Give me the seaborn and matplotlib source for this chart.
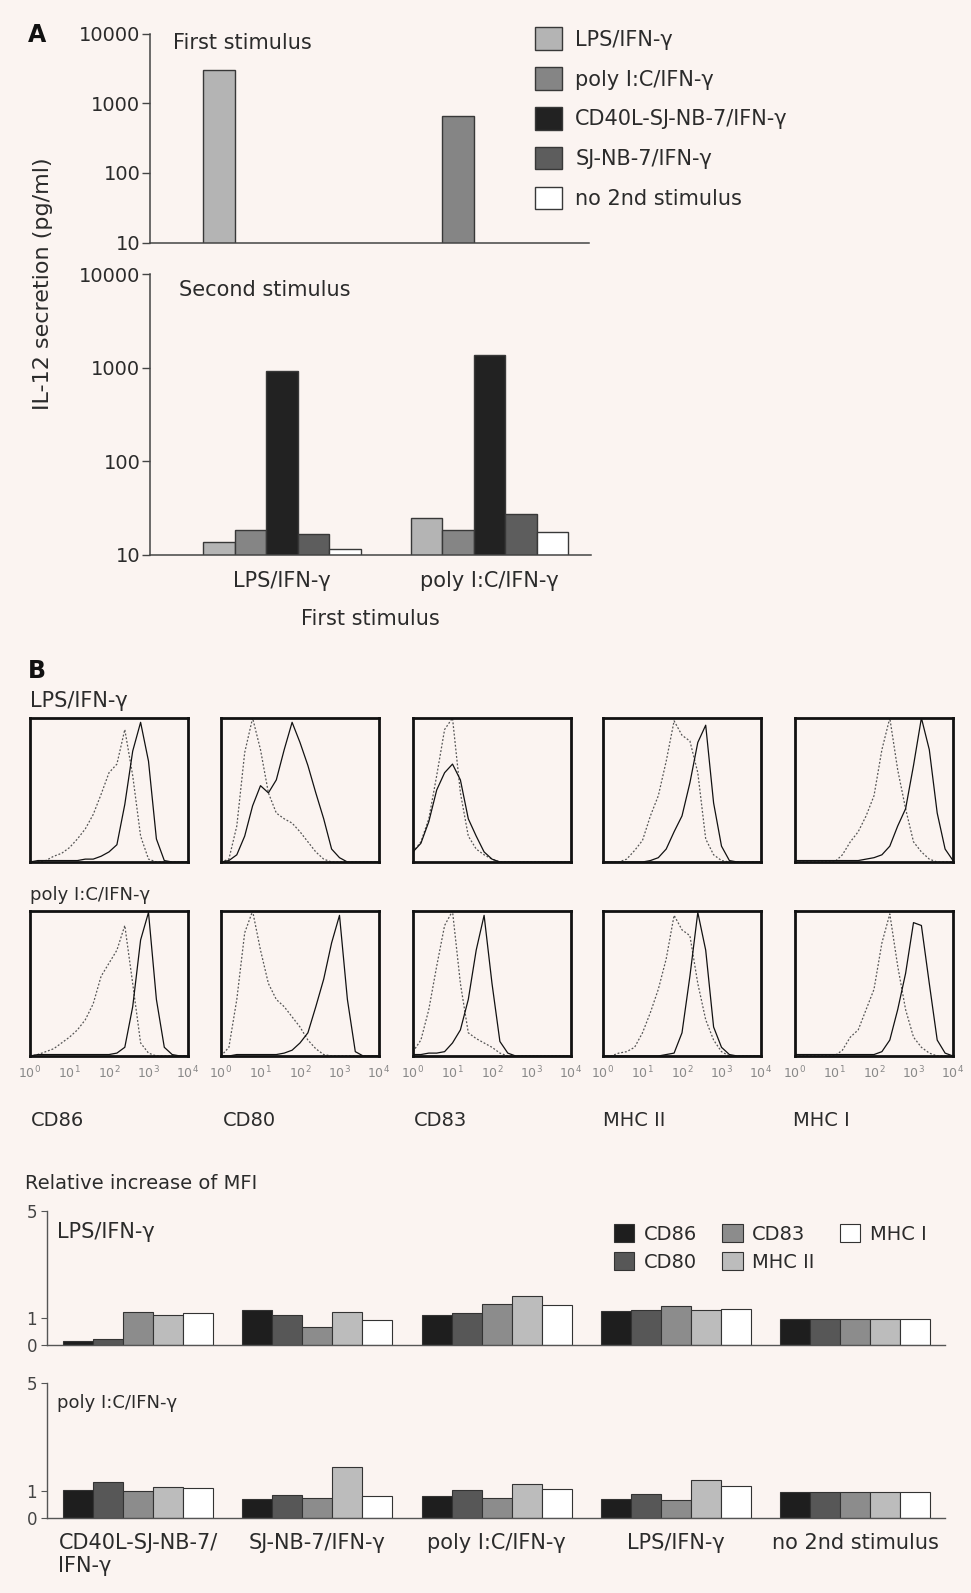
import pandas as pd
import matplotlib.pyplot as plt
import seaborn as sns
from matplotlib.patches import Patch
from matplotlib.ticker import NullLocator

# ---- Panel A: IL-12 secretion (pg/ml) ----
first_stimuli = ["LPS/IFN-γ", "poly I:C/IFN-γ"]
second_stimuli = ["LPS/IFN-γ", "poly I:C/IFN-γ", "CD40L-SJ-NB-7/IFN-γ",
                  "SJ-NB-7/IFN-γ", "no 2nd stimulus"]
second_colors = ["#b4b4b4", "#858585", "#222222", "#5d5d5d", "#ffffff"]
il12_first = [3000, 650]  # first stimulus only
il12_after_lps = [13.8, 18.2, 930, 16.5, 11.6]
il12_after_poly = [24.6, 18.2, 1350, 27.2, 17.3]

# ---- Panel B: histograms (log10 fluorescence, counts scaled to peak) ----
markers = ["CD86", "CD80", "CD83", "MHC II", "MHC I"]
log_fl = [0.0, 0.2, 0.4, 0.6, 0.8, 1.0, 1.2, 1.4, 1.6, 1.8, 2.0,
          2.2, 2.4, 2.6, 2.8, 3.0, 3.2, 3.4, 3.6, 3.8, 4.0]
decade_labels = ["$10^{0}$", "$10^{1}$", "$10^{2}$", "$10^{3}$", "$10^{4}$"]

lps_ctrl = {
    "CD86": [0, 0, 0.01, 0.04, 0.06, 0.1, 0.16, 0.23, 0.33, 0.47, 0.62, 0.68, 0.92, 0.6, 0.18, 0.02, 0, 0, 0, 0, 0],
    "CD80": [0, 0.02, 0.25, 0.76, 1.0, 0.78, 0.48, 0.34, 0.3, 0.27, 0.21, 0.14, 0.07, 0.02, 0, 0, 0, 0, 0, 0, 0],
    "CD83": [0.07, 0.14, 0.3, 0.6, 0.92, 1.0, 0.48, 0.18, 0.09, 0.05, 0.02, 0, 0, 0, 0, 0, 0, 0, 0, 0, 0],
    "MHC II": [0, 0, 0, 0.02, 0.08, 0.15, 0.32, 0.46, 0.7, 0.98, 0.88, 0.84, 0.62, 0.16, 0.05, 0.01, 0, 0, 0, 0, 0],
    "MHC I": [0, 0, 0, 0, 0, 0, 0.05, 0.14, 0.21, 0.32, 0.46, 0.78, 1.0, 0.64, 0.37, 0.14, 0.07, 0.02, 0, 0, 0],
}
lps_stim = {
    "CD86": [0, 0.01, 0.01, 0.01, 0.01, 0.01, 0.01, 0.02, 0.02, 0.04, 0.07, 0.12, 0.4, 0.77, 0.97, 0.7, 0.16, 0.01, 0, 0, 0],
    "CD80": [0, 0.01, 0.05, 0.18, 0.39, 0.53, 0.48, 0.57, 0.78, 0.97, 0.83, 0.67, 0.48, 0.3, 0.09, 0.03, 0, 0, 0, 0, 0],
    "CD83": [0.07, 0.13, 0.28, 0.5, 0.62, 0.68, 0.57, 0.3, 0.18, 0.07, 0.02, 0, 0, 0, 0, 0, 0, 0, 0, 0, 0],
    "MHC II": [0, 0, 0, 0, 0, 0, 0.01, 0.03, 0.09, 0.21, 0.32, 0.55, 0.83, 0.95, 0.41, 0.11, 0.01, 0, 0, 0, 0],
    "MHC I": [0.01, 0.01, 0.01, 0.01, 0.01, 0.01, 0.01, 0.01, 0.01, 0.02, 0.03, 0.05, 0.11, 0.25, 0.37, 0.67, 1.0, 0.78, 0.34, 0.09, 0.01],
}
poly_ctrl = {
    "CD86": [0, 0.01, 0.03, 0.05, 0.09, 0.13, 0.18, 0.25, 0.36, 0.55, 0.64, 0.73, 0.9, 0.5, 0.09, 0.02, 0, 0, 0, 0, 0],
    "CD80": [0, 0.06, 0.39, 0.85, 1.0, 0.73, 0.5, 0.39, 0.34, 0.27, 0.2, 0.11, 0.05, 0.01, 0, 0, 0, 0, 0, 0, 0],
    "CD83": [0.03, 0.11, 0.32, 0.62, 0.9, 1.0, 0.5, 0.16, 0.12, 0.09, 0.06, 0.02, 0, 0, 0, 0, 0, 0, 0, 0, 0],
    "MHC II": [0, 0, 0.02, 0.03, 0.06, 0.16, 0.3, 0.46, 0.67, 0.97, 0.87, 0.83, 0.5, 0.25, 0.11, 0.03, 0, 0, 0, 0, 0],
    "MHC I": [0, 0, 0, 0, 0, 0, 0.04, 0.13, 0.18, 0.32, 0.46, 0.78, 0.98, 0.62, 0.32, 0.13, 0.06, 0.02, 0, 0, 0],
}
poly_stim = {
    "CD86": [0, 0.01, 0.01, 0.01, 0.01, 0.01, 0.01, 0.01, 0.01, 0.01, 0.01, 0.02, 0.06, 0.34, 0.8, 0.99, 0.39, 0.06, 0.01, 0, 0],
    "CD80": [0, 0, 0.01, 0.01, 0.01, 0.01, 0.01, 0.01, 0.02, 0.04, 0.09, 0.16, 0.34, 0.53, 0.78, 0.97, 0.39, 0.03, 0, 0, 0],
    "CD83": [0.01, 0.01, 0.02, 0.02, 0.03, 0.09, 0.18, 0.39, 0.73, 0.97, 0.5, 0.1, 0.02, 0, 0, 0, 0, 0, 0, 0, 0],
    "MHC II": [0, 0, 0, 0, 0, 0, 0, 0, 0.01, 0.02, 0.16, 0.55, 0.99, 0.73, 0.2, 0.06, 0.01, 0, 0, 0, 0],
    "MHC I": [0.01, 0.01, 0.01, 0.01, 0.01, 0.01, 0.01, 0.01, 0.01, 0.01, 0.01, 0.03, 0.11, 0.32, 0.57, 0.92, 0.9, 0.5, 0.11, 0.02, 0],
}

# ---- Panel B: relative increase of MFI ----
mfi_groups = ["CD40L-SJ-NB-7/\nIFN-γ", "SJ-NB-7/IFN-γ", "poly I:C/IFN-γ",
              "LPS/IFN-γ", "no 2nd stimulus"]
marker_colors = ["#1e1e1e", "#575757", "#8c8c8c", "#bcbcbc", "#ffffff"]
mfi_lps = {
    "CD86": [0.16, 1.29, 1.13, 1.26, 0.97],
    "CD80": [0.22, 1.12, 1.18, 1.31, 0.97],
    "CD83": [1.24, 0.68, 1.54, 1.47, 0.97],
    "MHC II": [1.11, 1.23, 1.82, 1.29, 0.97],
    "MHC I": [1.19, 0.93, 1.50, 1.34, 0.97],
}
mfi_poly = {
    "CD86": [1.04, 0.71, 0.82, 0.69, 0.97],
    "CD80": [1.32, 0.86, 1.04, 0.87, 0.97],
    "CD83": [0.98, 0.72, 0.74, 0.67, 0.97],
    "MHC II": [1.15, 1.87, 1.25, 1.40, 0.97],
    "MHC I": [1.09, 0.82, 1.08, 1.19, 0.97],
}

sns.set_theme(style="ticks")
plt.rcParams["font.family"] = ["DejaVu Sans"]
bg = "#fbf4f1"
txt = "#2b2b2b"
edge = "#383838"
W, H = 971, 1593
fig = plt.figure(figsize=(W / 100, H / 100), dpi=100, facecolor=bg)


def px_axes(x0, y0, x1, y1):
    ax = fig.add_axes([x0 / W, 1 - y1 / H, (x1 - x0) / W, (y1 - y0) / H])
    ax.set_facecolor(bg)
    return ax


def style_log_axis(ax):
    ax.set_ylim(10, 10000)
    ax.set_yticks([10, 100, 1000, 10000], ["10", "100", "1000", "10000"])
    ax.yaxis.set_minor_locator(NullLocator())
    ax.tick_params(axis="y", length=6, width=1, color="#444", labelsize=14, labelcolor=txt, pad=1)
    sns.despine(ax=ax)
    for s in ("left", "bottom"):
        ax.spines[s].set_color("#444")
        ax.spines[s].set_linewidth(1.1)
    ax.set_ylabel("")


second_pal = dict(zip(second_stimuli, second_colors))

# first stimulus
first_df = pd.DataFrame({"first": first_stimuli, "second": first_stimuli, "il12": il12_first})
ax1 = px_axes(150, 33.5, 589, 242.7)
ax1.set_yscale("log")
sns.barplot(data=first_df, x="first", y="il12", hue="second", order=first_stimuli,
            hue_order=second_stimuli, palette=second_pal, width=0.76, gap=0, dodge=True,
            edgecolor=edge, linewidth=1, legend=False, errorbar=None, ax=ax1)
style_log_axis(ax1)
ax1.set_xlim(-0.638, 1.48)
ax1.set_xticks([])
ax1.set_xlabel("")

# second stimulus
second_df = pd.DataFrame({
    "first": [first_stimuli[0]] * 5 + [first_stimuli[1]] * 5,
    "second": second_stimuli * 2,
    "il12": il12_after_lps + il12_after_poly,
})
ax2 = px_axes(150, 274.2, 591, 554.6)
ax2.set_yscale("log")
sns.barplot(data=second_df, x="first", y="il12", hue="second", order=first_stimuli,
            hue_order=second_stimuli, palette=second_pal, width=0.76, gap=0, dodge=True,
            edgecolor=edge, linewidth=1, legend=False, errorbar=None, ax=ax2)
style_log_axis(ax2)
ax2.set_xlim(-0.638, 1.49)
ax2.tick_params(axis="x", length=0, labelsize=15, labelcolor=txt, pad=12)
ax2.set_xlabel("First stimulus", fontsize=15, color=txt, labelpad=13)

fig.text(27.4 / W, 1 - 35.5 / H, "A", fontsize=17, fontweight="bold", va="center", color="#111")
fig.text(42.7 / W, 1 - 284 / H, "IL-12 secretion (pg/ml)", rotation=90, ha="center",
         va="center", fontsize=16, color=txt)
fig.text(172.7 / W, 1 - 42.7 / H, "First stimulus", fontsize=15, va="center", color=txt)
fig.text(178.8 / W, 1 - 289.5 / H, "Second stimulus", fontsize=15, va="center", color=txt)

handles = [Patch(facecolor=c, edgecolor=edge, linewidth=1, label=l)
           for l, c in zip(second_stimuli, second_colors)]
fig.legend(handles=handles, loc="upper left", bbox_to_anchor=(535 / W, 1 - 27.4 / H),
           frameon=False, fontsize=15, handlelength=1.3, handleheight=1.3,
           labelspacing=0.82, handletextpad=0.63, borderpad=0, borderaxespad=0,
           labelcolor=txt)

# ---- Panel B histograms ----
fig.text(27.4 / W, 1 - 671.4 / H, "B", fontsize=17, fontweight="bold", va="center", color="#111")
fig.text(30.5 / W, 1 - 700.8 / H, "LPS/IFN-γ", fontsize=15, va="center", color=txt)
fig.text(30.5 / W, 1 - 894.8 / H, "poly I:C/IFN-γ", fontsize=13, va="center", color=txt)

hist_left = [30, 221, 413, 603, 795]
hist_rows = [(lps_ctrl, lps_stim, 718, 862), (poly_ctrl, poly_stim, 911, 1056)]
for r, (ctrl, stim, top, bot) in enumerate(hist_rows):
    for i, m in enumerate(markers):
        ax = px_axes(hist_left[i], top, hist_left[i] + 158, bot)
        sns.lineplot(x=log_fl, y=ctrl[m], ax=ax, color="#555555",
                     linestyle=(0, (1.5, 1.5)), linewidth=0.9)
        sns.lineplot(x=log_fl, y=stim[m], ax=ax, color="#111111", linewidth=0.9)
        ax.set_xlim(0, 4)
        ax.set_ylim(0, 1.0)
        ax.set_yticks([])
        for s in ax.spines.values():
            s.set_linewidth(2)
            s.set_color("#111111")
        if r == 1:
            ax.set_xticks(range(5), decade_labels)
            ax.tick_params(axis="x", length=0, labelsize=9, labelcolor="#888888", pad=6)
        else:
            ax.set_xticks([])

marker_x = [30.5, 222.4, 413.4, 603.3, 793.3]
for x, m in zip(marker_x, markers):
    fig.text(x / W, 1 - 1120 / H, m, fontsize=14, va="center", color=txt)

# ---- Panel B MFI bars ----
fig.text(25.4 / W, 1 - 1183.3 / H, "Relative increase of MFI", fontsize=14, va="center", color=txt)
marker_pal = dict(zip(markers, marker_colors))


def mfi_frame(vals):
    rows = []
    for m in markers:
        for g, v in zip(mfi_groups, vals[m]):
            rows.append({"group": g, "marker": m, "mfi": v})
    return pd.DataFrame(rows)


mfi_axes = []
for vals, (top, bot), label, lsize, ly in [
        (mfi_lps, (1211, 1345), "LPS/IFN-γ", 15, 1232),
        (mfi_poly, (1383.3, 1517.7), "poly I:C/IFN-γ", 13, 1402.7)]:
    ax = px_axes(46.7, top, 944.6, bot)
    sns.barplot(data=mfi_frame(vals), x="group", y="mfi", hue="marker", order=mfi_groups,
                hue_order=markers, palette=marker_pal, width=0.837, gap=0, dodge=True,
                edgecolor="#333333", linewidth=0.8, legend=False, errorbar=None, ax=ax)
    ax.set_ylim(0, 5)
    ax.set_xlim(-0.51, 4.5)
    ax.set_yticks([0, 1, 5], ["0", "1", "5"])
    ax.tick_params(axis="y", length=4, width=0.8, color="#555", labelsize=12, labelcolor="#444", pad=3)
    sns.despine(ax=ax)
    for s in ("left", "bottom"):
        ax.spines[s].set_color("#555")
        ax.spines[s].set_linewidth(1)
    ax.set_xlabel("")
    ax.set_ylabel("")
    fig.text(56.9 / W, 1 - ly / H, label, fontsize=lsize, va="center", color=txt)
    mfi_axes.append(ax)

mfi_axes[0].set_xticks([])
mfi_axes[1].tick_params(axis="x", length=0, labelsize=15, labelcolor=txt, pad=11)
for t in mfi_axes[1].get_xticklabels():
    t.set_multialignment("left")

mfi_handles = [Patch(facecolor=c, edgecolor="#333333", linewidth=0.8, label=m)
               for m, c in zip(markers, marker_colors)]
fig.legend(handles=mfi_handles, loc="upper left", bbox_to_anchor=(613.5 / W, 1 - 1224 / H),
           ncol=3, frameon=False, fontsize=14, handlelength=1.05, handleheight=1.05,
           labelspacing=0.45, handletextpad=0.5, columnspacing=1.3, borderpad=0,
           borderaxespad=0, labelcolor=txt)

fig.savefig("out.png", dpi=100, facecolor=bg)
